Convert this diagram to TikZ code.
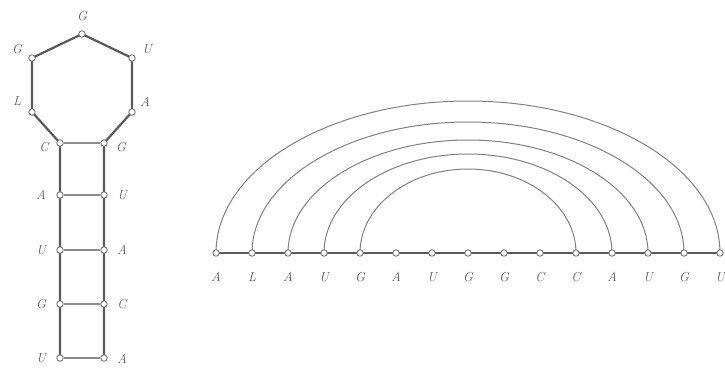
\documentclass[tikz,border=0pt]{standalone}
\usetikzlibrary{backgrounds}
\begin{document}
\begin{tikzpicture}[x=1pt,y=1pt,
  dot/.style={circle,draw=black!60,fill=white,line width=0.8pt,inner sep=0pt,minimum size=6.5pt},
  lbl/.style={text=black!65,font=\fontsize{13}{13}\selectfont\itshape,inner sep=0pt},
  backbone/.style={draw=black!65,line width=2.2pt},
  rung/.style={draw=black!45,line width=1.1pt},
  pairarc/.style={draw=black!50,line width=1pt}]
\useasboundingbox (0,0) rectangle (725,-370);
% hairpin nodes
\node[dot] (h1) at (60,-358) {};
\node[dot] (h2) at (60,-304) {};
\node[dot] (h3) at (60,-250) {};
\node[dot] (h4) at (60,-195) {};
\node[dot] (h5) at (60,-143) {};
\node[dot] (h6) at (32,-112) {};
\node[dot] (h7) at (32,-58) {};
\node[dot] (h8) at (82,-34) {};
\node[dot] (h9) at (132,-58) {};
\node[dot] (h10) at (132,-112) {};
\node[dot] (h11) at (104,-143) {};
\node[dot] (h12) at (104,-195) {};
\node[dot] (h13) at (104,-250) {};
\node[dot] (h14) at (104,-304) {};
\node[dot] (h15) at (104,-358) {};
% hairpin labels
\node[lbl] (t1) at (41,-358) {U};
\node[lbl] (t2) at (41,-304) {G};
\node[lbl] (t3) at (41,-250) {U};
\node[lbl] (t4) at (41,-195) {A};
\node[lbl] (t5) at (44,-147) {C};
\node[lbl] (t6) at (17,-101) {L};
\node[lbl] (t7) at (17,-49) {G};
\node[lbl] (t8) at (82,-16) {G};
\node[lbl] (t9) at (147,-49) {U};
\node[lbl] (t10) at (145,-102) {A};
\node[lbl] (t11) at (121,-147) {G};
\node[lbl] (t12) at (122,-195) {U};
\node[lbl] (t13) at (122,-250) {A};
\node[lbl] (t14) at (122,-304) {C};
\node[lbl] (t15) at (122,-359) {A};
% linear nodes
\foreach \i/\s in {1/A,2/L,3/A,4/U,5/G,6/A,7/U,8/G,9/G,10/C,11/C,12/A,13/U,14/G,15/U}{
  \node[dot] (L\i) at ({216+36*(\i-1)},-253) {};
  \node[lbl] (s\i) at ({216+36*(\i-1)},-277) {\s};
}
\begin{pgfonlayer}{background}
\draw[backbone,line join=round] (h1.center) -- (h2.center) -- (h3.center) -- (h4.center) -- (h5.center)
  -- (h6.center) -- (h7.center) -- (h8.center) -- (h9.center) -- (h10.center) -- (h11.center)
  -- (h12.center) -- (h13.center) -- (h14.center) -- (h15.center);
\draw[rung] (h1) -- (h15);
\draw[rung] (h2) -- (h14);
\draw[rung] (h3) -- (h13);
\draw[rung] (h4) -- (h12);
\draw[rung] (h5) -- (h11);
\draw[backbone,line width=2pt] (L1.center) -- (L15.center);
\draw[pairarc] (L1.center) arc[start angle=180,end angle=0,x radius=252,y radius=152];
\draw[pairarc] (L2.center) arc[start angle=180,end angle=0,x radius=216,y radius=131];
\draw[pairarc] (L3.center) arc[start angle=180,end angle=0,x radius=180,y radius=113];
\draw[pairarc] (L4.center) arc[start angle=180,end angle=0,x radius=144,y radius=99];
\draw[pairarc] (L5.center) arc[start angle=180,end angle=0,x radius=108,y radius=84];
\end{pgfonlayer}
\end{tikzpicture}
\end{document}
